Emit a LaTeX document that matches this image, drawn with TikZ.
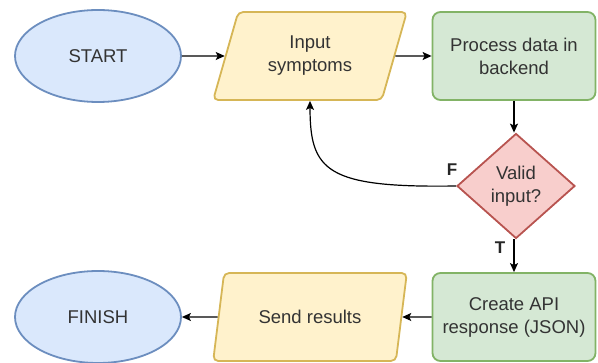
\documentclass[tikz,border=0pt]{standalone}
\usepackage{fontspec}
\setmainfont{Liberation Sans}
\usetikzlibrary{shapes.geometric,arrows.meta}

\definecolor{fondoazul}{HTML}{DAE8FC}
\definecolor{bordeazul}{HTML}{6C8EBF}
\definecolor{fondoamarillo}{HTML}{FFF2CC}
\definecolor{bordeamarillo}{HTML}{D6B656}
\definecolor{fondoverde}{HTML}{D5E8D4}
\definecolor{bordeverde}{HTML}{82B366}
\definecolor{fondorojo}{HTML}{F8CECC}
\definecolor{borderojo}{HTML}{B85450}

\tikzstyle{inicio}= [ellipse,draw=bordeazul,fill=fondoazul,line width=1.8pt,minimum width=166pt,minimum height=92pt]
\tikzstyle{entrada}= [trapezium,trapezium left angle=71,trapezium right angle=109,trapezium stretches=true,draw=bordeamarillo,fill=fondoamarillo,rounded corners=5pt,line width=1.8pt,minimum width=194pt,minimum height=88pt,align=center]
\tikzstyle{proceso}= [rectangle,rounded corners=8pt,draw=bordeverde,fill=fondoverde,line width=1.8pt,minimum width=163pt,minimum height=88pt,align=center]
\tikzstyle{decision}= [diamond,draw=borderojo,fill=fondorojo,line width=1.8pt,minimum width=118pt,minimum height=105pt,inner sep=0pt,align=center]
\tikzstyle{flecha}= [line width=1.2pt,black,-{Stealth[length=9pt,width=8pt,inset=2pt]}]
\tikzstyle{etiqueta}= [font=\fontsize{17}{20}\selectfont\bfseries,text=black!85]

\begin{document}
\begin{tikzpicture}[x=1pt,y=-1pt,font=\fontsize{18.5}{23}\selectfont,text=black!80]

		\useasboundingbox (0,0) rectangle (598,363);

		\node (start) at (98,56) [inicio] {START};
		\node (input) at (310,56) [entrada] {Input\\symptoms};
		\node (process) at (514,56) [proceso] {Process data in\\backend};
		\node (valid) at (516,186) [decision] {Valid\\input?};
		\node (create) at (514,317) [proceso] {Create API\\response (JSON)};
		\node (send) at (310,317) [entrada] {Send results};
		\node (finish) at (98,317) [inicio] {FINISH};

		\node (f) at (452,170) [etiqueta] {F};
		\node (t) at (500,248) [etiqueta] {T};

		\path[flecha] (start) edge (input);
		\path[flecha] (input) edge (process);
		\path[flecha] (process.south) edge (process.south |- valid.north);
		\path[flecha] (valid.south -| create.north) edge (create.north);
		\path[flecha] (create) edge (send);
		\path[flecha] (send) edge (finish);

		% vuelta cuando la entrada no es valida
		\draw[flecha] (valid.west) .. controls +(-130,2) and +(0,70) .. (input.south);

\end{tikzpicture}
\end{document}
